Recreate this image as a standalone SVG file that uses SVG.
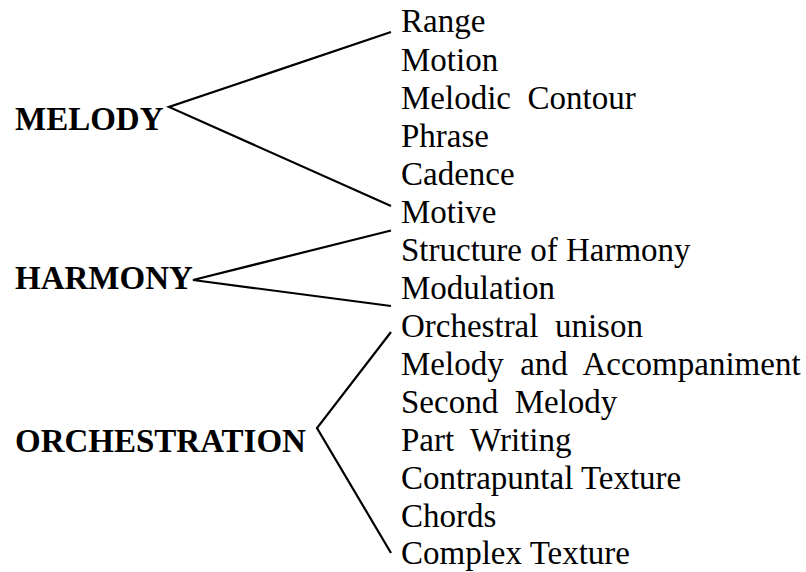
<svg xmlns="http://www.w3.org/2000/svg" width="806" height="572" viewBox="0 0 806 572">
<style>
.head{font-family:"Liberation Serif","Times New Roman",serif;font-weight:bold;font-size:33px;fill:#000}
.item{font-family:"Liberation Serif","Times New Roman",serif;font-size:33px;fill:#000}
.conn{fill:none;stroke:#000;stroke-width:2.2;stroke-linejoin:miter}
</style>
<rect width="806" height="572" fill="#fff"/>
<g id="connectors">
<polyline class="conn" points="391,32 169,107 391,206"/>
<polyline class="conn" points="391,230.5 193,280 391,306"/>
<polyline class="conn" points="391,332 317,428 391,553"/>
</g>
<g id="melody"><text class="head" x="15" y="129.5">MELODY</text></g>
<g id="harmony"><text class="head" x="15" y="289">HARMONY</text></g>
<g id="orchestration"><text class="head" x="15" y="452">ORCHESTRATION</text></g>
<g id="melody-items">
<text class="item" x="401" y="32" xml:space="preserve">Range</text>
<text class="item" x="401" y="70.5" xml:space="preserve">Motion</text>
<text class="item" x="401" y="108.5" xml:space="preserve">Melodic  Contour</text>
<text class="item" x="401" y="146.5" xml:space="preserve">Phrase</text>
<text class="item" x="401" y="184.5" xml:space="preserve">Cadence</text>
<text class="item" x="401" y="222.5" xml:space="preserve">Motive</text>
</g>
<g id="harmony-items">
<text class="item" x="401" y="260.5" xml:space="preserve">Structure of Harmony</text>
<text class="item" x="401" y="298.5" xml:space="preserve">Modulation</text>
</g>
<g id="orchestration-items">
<text class="item" x="401" y="336.5" xml:space="preserve">Orchestral  unison</text>
<text class="item" x="401" y="374.5" xml:space="preserve">Melody  and  Accompaniment</text>
<text class="item" x="401" y="412.5" xml:space="preserve">Second  Melody</text>
<text class="item" x="401" y="450.5" xml:space="preserve">Part  Writing</text>
<text class="item" x="401" y="488.5" xml:space="preserve">Contrapuntal Texture</text>
<text class="item" x="401" y="526.5" xml:space="preserve">Chords</text>
<text class="item" x="401" y="563.5" xml:space="preserve">Complex Texture</text>
</g>
</svg>
